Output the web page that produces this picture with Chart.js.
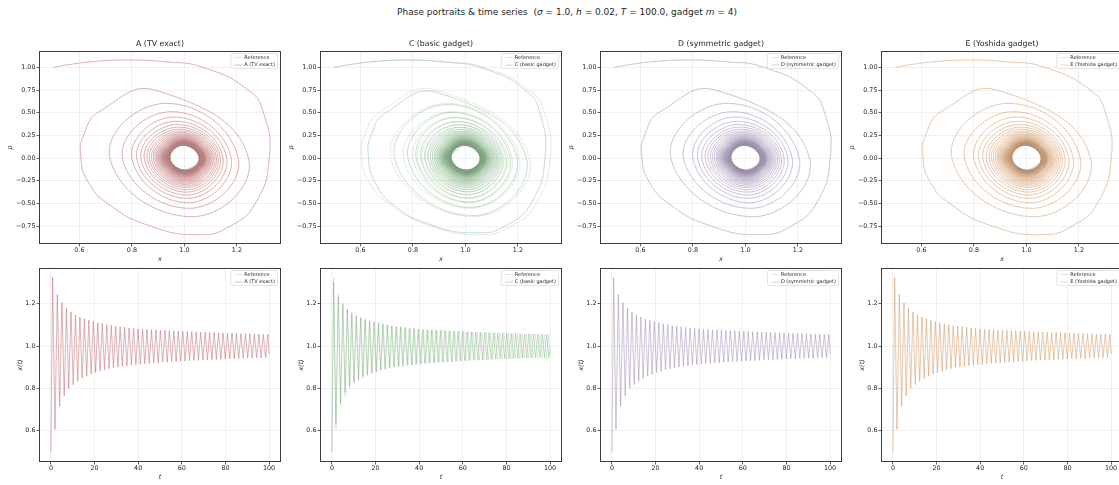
<!DOCTYPE html>
<html>
<head>
<meta charset="utf-8">
<script src="https://cdn.jsdelivr.net/npm/chart.js@4"></script>
<style>
  html, body { margin: 0; padding: 0; background: #fff; overflow: hidden; }
  body { width: 1119px; height: 485px; position: relative; font-family: "DejaVu Sans", sans-serif; color: #262626; }
  canvas { position: absolute; }
  #sup { position: absolute; left: 0; top: 6px; width: 1134px; text-align: center; font-size: 9px; line-height: 12px; white-space: nowrap; }
  .sub { position: absolute; top: 39px; width: 240px; text-align: center; font-size: 7.8px; line-height: 10px; white-space: nowrap; }
</style>
</head>
<body>
<div id="sup">Phase portraits &amp; time series&nbsp; (<i>σ</i> = 1.0, <i>h</i> = 0.02, <i>T</i> = 100.0, gadget <i>m</i> = 4)</div>
<script>
// ---- panel names / colours ----
const panelNames = ['A (TV exact)', 'C (basic gadget)', 'D (symmetric gadget)', 'E (Yoshida gadget)'];
const panelColors = ['214,39,40', '44,160,44', '148,103,189', '255,127,14'];

// ---- tick labels ----
const phaseXTicks = [0.6, 0.8, 1.0, 1.2];
const phasePTicks = [1.00, 0.75, 0.50, 0.25, 0.00, -0.25, -0.50, -0.75];
const timeTTicks = [0, 20, 40, 60, 80, 100];
const timeXTicks = [0.6, 0.8, 1.0, 1.2];

// ---- reference run (also A, D, E which sit on top of it) ----
// first turn of the spiral, read point by point (x, p), runs past trough 1
const refFirstX = [0.500, 0.560, 0.640, 0.770, 0.930, 1.070, 1.243, 1.301, 1.323, 1.270, 1.174, 1.060, 0.870, 0.707, 0.631, 0.606, 0.616, 0.680];
const refFirstP = [1.000, 1.030, 1.060, 1.080, 1.060, 1.000, 0.750, 0.500, 0.000, -0.500, -0.750, -0.845, -0.750, -0.500, -0.250, 0.000, 0.250, 0.520];
// x maxima (peaks) and minima (troughs) of x(t)
const refPeakT = [0.80, 2.95, 5.05, 7.13, 9.19, 11.25, 13.30, 15.35, 17.40, 19.45,
  21.50, 23.55, 25.60, 27.65, 29.70, 31.75, 33.80, 35.85, 37.90, 39.95,
  42.00, 44.05, 46.10, 48.15, 50.20, 52.25, 54.30, 56.35, 58.40, 60.45,
  62.50, 64.55, 66.60, 68.65, 70.70, 72.75, 74.80, 76.85, 78.90, 80.95,
  83.00, 85.05, 87.10, 89.15, 91.20, 93.25, 95.30, 97.35, 99.40];
const refPeakX = [1.323, 1.244, 1.205, 1.178, 1.161, 1.147, 1.137, 1.129, 1.122, 1.116,
  1.110, 1.105, 1.101, 1.097, 1.094, 1.091, 1.088, 1.085, 1.083, 1.081,
  1.079, 1.078, 1.077, 1.076, 1.075, 1.074, 1.073, 1.072, 1.071, 1.070,
  1.069, 1.068, 1.067, 1.066, 1.065, 1.064, 1.064, 1.063, 1.062, 1.061,
  1.061, 1.060, 1.059, 1.059, 1.058, 1.057, 1.057, 1.056, 1.056];
const refTroughT = [1.85, 4.00, 6.10, 8.16, 10.22, 12.28, 14.33, 16.38, 18.43, 20.48,
  22.53, 24.58, 26.63, 28.68, 30.73, 32.78, 34.83, 36.88, 38.93, 40.98,
  43.03, 45.08, 47.13, 49.18, 51.23, 53.28, 55.33, 57.38, 59.43, 61.48,
  63.53, 65.58, 67.63, 69.68, 71.73, 73.78, 75.83, 77.88, 79.93, 81.98,
  84.03, 86.08, 88.13, 90.18, 92.23, 94.28, 96.33, 98.38];
const refTroughX = [0.606, 0.716, 0.764, 0.800, 0.818, 0.834, 0.847, 0.858, 0.867, 0.875,
  0.882, 0.888, 0.893, 0.897, 0.901, 0.904, 0.907, 0.910, 0.912, 0.914,
  0.916, 0.918, 0.920, 0.921, 0.923, 0.924, 0.926, 0.927, 0.928, 0.930,
  0.931, 0.932, 0.933, 0.934, 0.935, 0.936, 0.937, 0.938, 0.939, 0.940,
  0.940, 0.941, 0.942, 0.943, 0.943, 0.944, 0.945, 0.945];
// p maxima (after troughs 1..48) and p minima (after peaks 2..49)
const refTopP = [0.739, 0.603, 0.511, 0.452, 0.405, 0.370, 0.341, 0.318, 0.298, 0.281,
  0.267, 0.255, 0.244, 0.235, 0.227, 0.219, 0.213, 0.207, 0.202, 0.197,
  0.193, 0.189, 0.185, 0.182, 0.179, 0.176, 0.173, 0.171, 0.168, 0.166,
  0.164, 0.162, 0.160, 0.158, 0.157, 0.155, 0.154, 0.152, 0.151, 0.150,
  0.148, 0.147, 0.146, 0.145, 0.144, 0.143, 0.142, 0.141];
const refBotP = [-0.647, -0.555, -0.493, -0.445, -0.408, -0.376, -0.350, -0.326, -0.308, -0.291,
  -0.277, -0.264, -0.252, -0.241, -0.232, -0.223, -0.215, -0.208, -0.202, -0.196,
  -0.191, -0.186, -0.182, -0.178, -0.174, -0.171, -0.168, -0.165, -0.162, -0.160,
  -0.158, -0.156, -0.154, -0.152, -0.150, -0.148, -0.147, -0.145, -0.144, -0.142,
  -0.141, -0.140, -0.138, -0.137, -0.136, -0.135, -0.134, -0.133];
const refEndX = 0.962;          // x(100)
const refEndPhase = [0.962, -0.100];

// x where p peaks / dips on each turn (shared by all runs)
const loopTopX = [0.900, 0.930, 0.950, 0.960, 0.968, 0.974, 0.978, 0.981, 0.984, 0.986,
  0.988, 0.989, 0.990, 0.991, 0.992, 0.992, 0.993, 0.993, 0.994, 0.994,
  0.994, 0.995, 0.995, 0.995, 0.995, 0.995, 0.995, 0.995, 0.995, 0.995,
  0.995, 0.995, 0.995, 0.995, 0.995, 0.995, 0.995, 0.995, 0.995, 0.995,
  0.995, 0.995, 0.995, 0.995, 0.995, 0.995, 0.995, 0.995];
const loopBotX = [1.030, 1.020, 1.015, 1.011, 1.009, 1.008, 1.007, 1.006, 1.006, 1.005,
  1.005, 1.005, 1.005, 1.005, 1.005, 1.005, 1.005, 1.005, 1.005, 1.005,
  1.005, 1.005, 1.005, 1.005, 1.005, 1.005, 1.005, 1.005, 1.005, 1.005,
  1.005, 1.005, 1.005, 1.005, 1.005, 1.005, 1.005, 1.005, 1.005, 1.005,
  1.005, 1.005, 1.005, 1.005, 1.005, 1.005, 1.005, 1.005];

// ---- C (basic gadget): drifts off the reference ----
const cFirstX = [0.500, 0.560, 0.640, 0.770, 0.930, 1.065, 1.232, 1.284, 1.303, 1.252, 1.160, 1.050, 0.862, 0.715, 0.652, 0.631, 0.640, 0.700];
const cFirstP = [1.000, 1.030, 1.060, 1.080, 1.055, 0.990, 0.740, 0.490, 0.000, -0.490, -0.735, -0.825, -0.730, -0.490, -0.245, 0.000, 0.245, 0.505];
const cPeakT = [0.78, 2.91, 4.99, 7.05, 9.09, 11.13, 13.16, 15.19, 17.22, 19.25,
  21.28, 23.31, 25.34, 27.37, 29.40, 31.43, 33.46, 35.49, 37.52, 39.55,
  41.58, 43.61, 45.64, 47.67, 49.70, 51.73, 53.76, 55.79, 57.82, 59.85,
  61.88, 63.91, 65.94, 67.97, 70.00, 72.03, 74.06, 76.09, 78.12, 80.15,
  82.18, 84.21, 86.24, 88.27, 90.30, 92.33, 94.36, 96.39, 98.42];
const cPeakX = [1.303, 1.232, 1.196, 1.171, 1.155, 1.142, 1.133, 1.125, 1.119, 1.113,
  1.108, 1.103, 1.099, 1.095, 1.092, 1.089, 1.087, 1.084, 1.082, 1.080,
  1.078, 1.077, 1.076, 1.075, 1.074, 1.073, 1.072, 1.071, 1.070, 1.069,
  1.068, 1.067, 1.066, 1.065, 1.064, 1.064, 1.063, 1.062, 1.061, 1.061,
  1.060, 1.060, 1.059, 1.058, 1.058, 1.057, 1.057, 1.056, 1.056];
const cTroughT = [1.84, 3.95, 6.02, 8.07, 10.11, 12.15, 14.18, 16.21, 18.24, 20.27,
  22.30, 24.33, 26.36, 28.39, 30.42, 32.45, 34.48, 36.51, 38.54, 40.57,
  42.60, 44.63, 46.66, 48.69, 50.72, 52.75, 54.78, 56.81, 58.84, 60.87,
  62.90, 64.93, 66.96, 68.99, 71.02, 73.05, 75.08, 77.11, 79.14, 81.17,
  83.20, 85.23, 87.26, 89.29, 91.32, 93.35, 95.38, 97.41, 99.44];
const cTroughX = [0.631, 0.730, 0.781, 0.812, 0.830, 0.845, 0.857, 0.866, 0.874, 0.881,
  0.887, 0.892, 0.897, 0.901, 0.904, 0.907, 0.910, 0.912, 0.914, 0.916,
  0.918, 0.920, 0.921, 0.923, 0.924, 0.926, 0.927, 0.928, 0.930, 0.931,
  0.932, 0.933, 0.934, 0.935, 0.936, 0.937, 0.938, 0.939, 0.940, 0.940,
  0.941, 0.942, 0.943, 0.943, 0.944, 0.945, 0.945, 0.946, 0.946];
const cTopP = [0.715, 0.590, 0.503, 0.445, 0.400, 0.366, 0.338, 0.315, 0.295, 0.279,
  0.265, 0.253, 0.243, 0.234, 0.226, 0.219, 0.212, 0.206, 0.201, 0.196,
  0.192, 0.188, 0.184, 0.181, 0.178, 0.175, 0.172, 0.170, 0.167, 0.165,
  0.163, 0.161, 0.159, 0.158, 0.156, 0.155, 0.153, 0.152, 0.151, 0.149,
  0.148, 0.147, 0.146, 0.145, 0.144, 0.143, 0.142, 0.141];
const cBotP = [-0.635, -0.545, -0.486, -0.440, -0.403, -0.372, -0.346, -0.323, -0.304, -0.288,
  -0.274, -0.262, -0.250, -0.240, -0.231, -0.222, -0.214, -0.207, -0.201, -0.195,
  -0.190, -0.185, -0.181, -0.177, -0.173, -0.170, -0.167, -0.164, -0.162, -0.160,
  -0.157, -0.155, -0.153, -0.151, -0.150, -0.148, -0.146, -0.145, -0.143, -0.142,
  -0.141, -0.140, -0.138, -0.137, -0.136, -0.135, -0.134, -0.133];
const cEndX = 0.985;
const cEndPhase = [0.985, 0.130];

// ---- layout (pixels) ----
const colLeft = [40, 321, 601, 882];
const plotW = 240;
const rowTop = [52, 269];
const plotH = [191, 192];
const padL = 38, padT = 8, padR = 6, padB = 22;

const refRun = { firstX: refFirstX, firstP: refFirstP, peakT: refPeakT, peakX: refPeakX, troughT: refTroughT,
  troughX: refTroughX, topP: refTopP, botP: refBotP, endX: refEndX, endPhase: refEndPhase };
const cRun = { firstX: cFirstX, firstP: cFirstP, peakT: cPeakT, peakX: cPeakX, troughT: cTroughT,
  troughX: cTroughX, topP: cTopP, botP: cBotP, endX: cEndX, endPhase: cEndPhase };

function timePath(d) {
  const pts = [{ x: 0, y: d.firstX[0] }];
  for (let i = 0; i < d.peakX.length; i++) {
    pts.push({ x: d.peakT[i], y: d.peakX[i] });
    if (i < d.troughX.length) pts.push({ x: d.troughT[i], y: d.troughX[i] });
  }
  pts.push({ x: 100, y: d.endX });
  return pts;
}

function phasePath(d) {
  const pts = d.firstX.map((x, j) => ({ x: x, y: d.firstP[j] }));
  for (let i = 0; i < d.topP.length; i++) {
    pts.push({ x: loopTopX[i], y: d.topP[i] });
    pts.push({ x: d.peakX[i + 1], y: 0 });
    pts.push({ x: loopBotX[i], y: d.botP[i] });
    if (i + 1 < d.troughX.length) pts.push({ x: d.troughX[i + 1], y: 0 });
  }
  pts.push({ x: d.endPhase[0], y: d.endPhase[1] });
  return pts;
}

const minus = s => s.replace('-', '\u2212');

// spines + small legend box in the upper right
const framePlugin = {
  id: 'frame',
  afterDraw(chart, args, opts) {
    const ctx = chart.ctx, a = chart.chartArea;
    ctx.save();
    ctx.strokeStyle = '#3c3c3c';
    ctx.lineWidth = 1;
    ctx.strokeRect(Math.round(a.left) - 0.5, Math.round(a.top) - 0.5, Math.round(a.right - a.left) + 1, Math.round(a.bottom - a.top) + 1);

    ctx.font = '5px "DejaVu Sans"';
    const tw = Math.max(...opts.labels.map(s => ctx.measureText(s).width));
    const bw = 13.5 + tw + 2.5, bh = 15;
    const bx = a.right - 2.5 - bw, by = a.top + 1.5;
    ctx.fillStyle = 'rgba(255,255,255,0.8)';
    ctx.strokeStyle = '#d4d4d4';
    ctx.lineWidth = 0.6;
    ctx.beginPath();
    ctx.roundRect(bx, by, bw, bh, 1.5);
    ctx.fill();
    ctx.stroke();
    ctx.textBaseline = 'middle';
    opts.labels.forEach((s, k) => {
      const y = by + 4 + k * 7.5;
      ctx.strokeStyle = opts.colors[k];
      ctx.lineWidth = 0.8;
      ctx.beginPath();
      ctx.moveTo(bx + 4, y);
      ctx.lineTo(bx + 11.5, y);
      ctx.stroke();
      ctx.fillStyle = '#262626';
      ctx.fillText(s, bx + 13.5, y);
    });
    ctx.restore();
  }
};

function axis(side, ticks, min, max, title, fmt, titlePad) {
  return {
    type: 'linear',
    min: min,
    max: max,
    afterBuildTicks: s => { s.ticks = ticks.map(v => ({ value: v })); },
    afterFit: s => { if (side === 'x') s.height = padB; else s.width = padL; },
    border: { display: false },
    grid: { color: 'rgba(0,0,0,0.07)', lineWidth: 0.8, tickLength: 3.5, tickColor: '#3c3c3c', tickWidth: 0.8 },
    ticks: {
      color: '#262626', font: { family: 'DejaVu Sans', size: 6.4 },
      padding: side === 'x' ? 0.5 : 1, maxRotation: 0, autoSkip: false,
      callback: v => minus(fmt(v))
    },
    title: { display: true, text: title, color: '#262626', font: { family: 'DejaVu Sans', size: 6.5, style: 'italic' }, padding: titlePad }
  };
}

function addPanel(row, col) {
  const cv = document.createElement('canvas');
  const w = padL + plotW + padR, h = padT + plotH[row] + padB;
  cv.width = w; cv.height = h;
  cv.style.left = (colLeft[col] - padL) + 'px';
  cv.style.top = (rowTop[row] - padT) + 'px';
  cv.style.width = w + 'px'; cv.style.height = h + 'px';
  document.body.appendChild(cv);

  const run = col === 1 ? cRun : refRun;
  const phase = row === 0;
  const refPts = phase ? phasePath(refRun) : timePath(refRun);
  const runPts = phase ? phasePath(run) : timePath(run);
  const refColor = 'rgba(150,150,150,0.35)';
  const runColor = 'rgba(' + panelColors[col] + ',0.45)';

  const scales = phase ? {
    x: axis('x', phaseXTicks, 0.450, 1.364, 'x', v => v.toFixed(1), { top: 0, bottom: 2 }),
    y: axis('y', phasePTicks, -0.937, 1.169, 'p', v => v.toFixed(2), { top: 4, bottom: 0 })
  } : {
    x: axis('x', timeTTicks, -5, 105, 't', v => v.toFixed(0), { top: 0, bottom: 2 }),
    y: axis('y', timeXTicks, 0.457, 1.364, 'x(t)', v => v.toFixed(1), { top: 14, bottom: 0 })
  };

  new Chart(cv, {
    type: 'scatter',
    data: {
      datasets: [
        { data: refPts, borderColor: refColor, borderWidth: 0.65, showLine: true, pointRadius: 0, tension: phase ? 0.5 : 0 },
        { data: runPts, borderColor: runColor, borderWidth: 0.65, showLine: true, pointRadius: 0, tension: phase ? 0.5 : 0 }
      ]
    },
    options: {
      responsive: false,
      animation: false,
      events: [],
      layout: { padding: { left: 0, top: padT, right: padR, bottom: 0 } },
      plugins: {
        legend: { display: false },
        tooltip: { enabled: false },
        frame: { labels: ['Reference', panelNames[col]], colors: [refColor, runColor] }
      },
      scales: scales
    },
    plugins: [framePlugin]
  });
}

for (let r = 0; r < 2; r++) {
  for (let c = 0; c < 4; c++) addPanel(r, c);
}

// subplot titles over the top row
panelNames.forEach((name, c) => {
  const d = document.createElement('div');
  d.className = 'sub';
  d.style.left = colLeft[c] + 'px';
  d.textContent = name;
  document.body.appendChild(d);
});
</script>
</body>
</html>
